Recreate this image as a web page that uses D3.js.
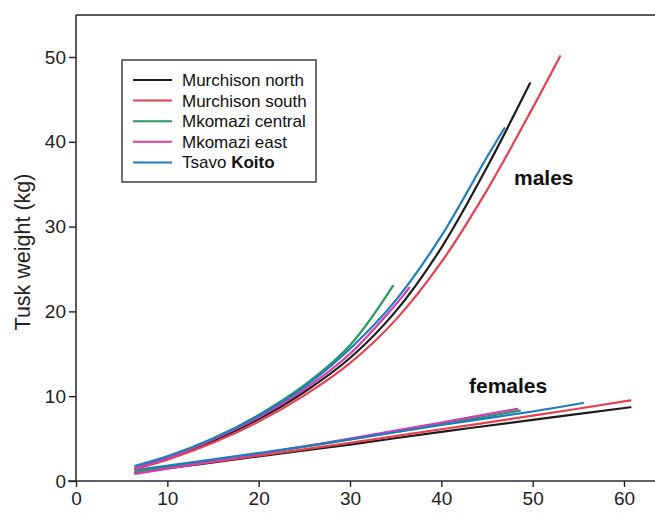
<!DOCTYPE html>
<html><head><meta charset="utf-8">
<script src="https://cdn.jsdelivr.net/npm/d3@7"></script>
<style>body{margin:0;background:#fff;} svg{display:block;font-family:"Liberation Sans",Arial,sans-serif;}</style>
</head><body>
<svg id="c" width="655" height="513"></svg>
<script>
const seriesNames = ["Murchison north","Murchison south","Mkomazi central","Mkomazi east","Tsavo Koito"];
const xTicks = [0,10,20,30,40,50,60];
const yTicks = [0,10,20,30,40,50];

// males: [age, kg]
const maleNorth   = [[6.5,1.5],[10,2.6],[15,4.7],[20,7.3],[25,10.5],[30,14.5],[35,20.0],[40,27.5],[45,37.0],[49.7,46.9]];
const maleSouth   = [[6.5,1.4],[10,2.5],[15,4.5],[20,7.0],[25,10.1],[30,13.9],[35,19.0],[40,25.8],[45,34.3],[50,44.0],[53,50.1]];
const maleCentral = [[6.5,1.6],[10,2.8],[15,5.0],[20,7.8],[25,11.3],[30,16.0],[34.7,23.0]];
const maleEast    = [[6.5,1.5],[10,2.7],[15,4.9],[20,7.5],[25,10.8],[30,15.0],[35,20.8],[36.5,22.8]];
const maleTsavo   = [[6.5,1.8],[10,2.9],[15,5.0],[20,7.7],[25,11.1],[30,15.6],[35,21.3],[40,28.9],[45,38.2],[46.9,41.6]];
// females
const femNorth   = [[6.5,1.0],[20,2.9],[30,4.3],[40,5.8],[50,7.2],[60.7,8.7]];
const femSouth   = [[6.5,1.0],[20,3.0],[30,4.5],[40,6.1],[50,7.7],[60.7,9.5]];
const femCentral = [[6.5,1.1],[20,3.2],[30,4.9],[40,6.7],[48.6,8.3]];
const femEast    = [[6.5,0.85],[20,3.2],[30,5.0],[40,6.9],[48.3,8.5]];
const femTsavo   = [[6.5,1.3],[20,3.3],[30,4.9],[40,6.6],[50,8.2],[55.5,9.2]];

const colors = ["#1c1c1c","#e8404e","#279a5c","#d23db0","#1e7cc2"];
const males = [maleNorth, maleSouth, maleCentral, maleEast, maleTsavo];
const females = [femNorth, femSouth, femCentral, femEast, femTsavo];

const svg = d3.select("#c");
const x = d3.scaleLinear().domain([0,60]).range([76,624]);
const y = d3.scaleLinear().domain([0,50]).range([481,57]);
const W = 655, topY = 15;
const FONT = "Liberation Sans, Arial, sans-serif";

// frame
svg.append("line").attr("x1",76).attr("x2",W).attr("y1",topY).attr("y2",topY).attr("stroke","#222").attr("stroke-width",1.5);
svg.append("line").attr("x1",76).attr("x2",76).attr("y1",topY).attr("y2",y(0)).attr("stroke","#222").attr("stroke-width",1.5);
svg.append("line").attr("x1",68).attr("x2",W).attr("y1",y(0)).attr("y2",y(0)).attr("stroke","#2a2a3a").attr("stroke-width",1.5);

const yAxis = svg.append("g").attr("transform","translate(76,0)")
  .call(d3.axisLeft(y).tickValues(yTicks).tickSize(7).tickPadding(3).tickFormat(d3.format("d")));
yAxis.select(".domain").remove();
yAxis.selectAll("line").attr("stroke","#222").attr("stroke-width",1.4);
yAxis.selectAll("text").attr("font-size",19).attr("fill","#222").attr("font-family",FONT);

const xAxis = svg.append("g").attr("transform",`translate(0,${y(0)})`)
  .call(d3.axisBottom(x).tickValues(xTicks).tickSize(6).tickPadding(5).tickFormat(d3.format("d")));
xAxis.select(".domain").remove();
xAxis.selectAll("line").attr("stroke","#222").attr("stroke-width",1.4);
xAxis.selectAll("text").attr("font-size",19).attr("fill","#222").attr("font-family",FONT);

svg.append("text").attr("transform","translate(30,252) rotate(-90)").attr("text-anchor","middle")
  .attr("font-size",21.5).attr("fill","#222").text("Tusk weight (kg)");

const line = d3.line().x(d=>x(d[0])).y(d=>y(d[1])).curve(d3.curveCatmullRom.alpha(0.5));
[females, males].forEach(group=>{
  group.forEach((s,i)=>{
    svg.append("path").attr("d",line(s)).attr("fill","none").attr("stroke",colors[i]).attr("stroke-width",2.2).attr("stroke-linecap","round");
  });
});

svg.append("text").attr("x",514).attr("y",185).attr("font-size",21).attr("font-weight","bold").attr("fill","#111").text("males");
svg.append("text").attr("x",469).attr("y",393).attr("font-size",21).attr("font-weight","bold").attr("fill","#111").text("females");

// legend
const lg = svg.append("g");
lg.append("rect").attr("x",122).attr("y",60).attr("width",194).attr("height",122).attr("fill","#fff").attr("stroke","#333").attr("stroke-width",1.4);
seriesNames.forEach((n,i)=>{
  const yy = 80 + i*20.6;
  lg.append("line").attr("x1",133).attr("x2",172).attr("y1",yy).attr("y2",yy).attr("stroke",colors[i]).attr("stroke-width",2);
  const t = lg.append("text").attr("x",182).attr("y",yy+6).attr("font-size",17).attr("fill","#111");
  const parts = n.split(" ");
  if (n === "Tsavo Koito") {
    t.append("tspan").text(parts[0] + " ");
    t.append("tspan").attr("font-weight","bold").text(parts[1]);
  } else {
    t.text(n);
  }
});
</script>
</body></html>
